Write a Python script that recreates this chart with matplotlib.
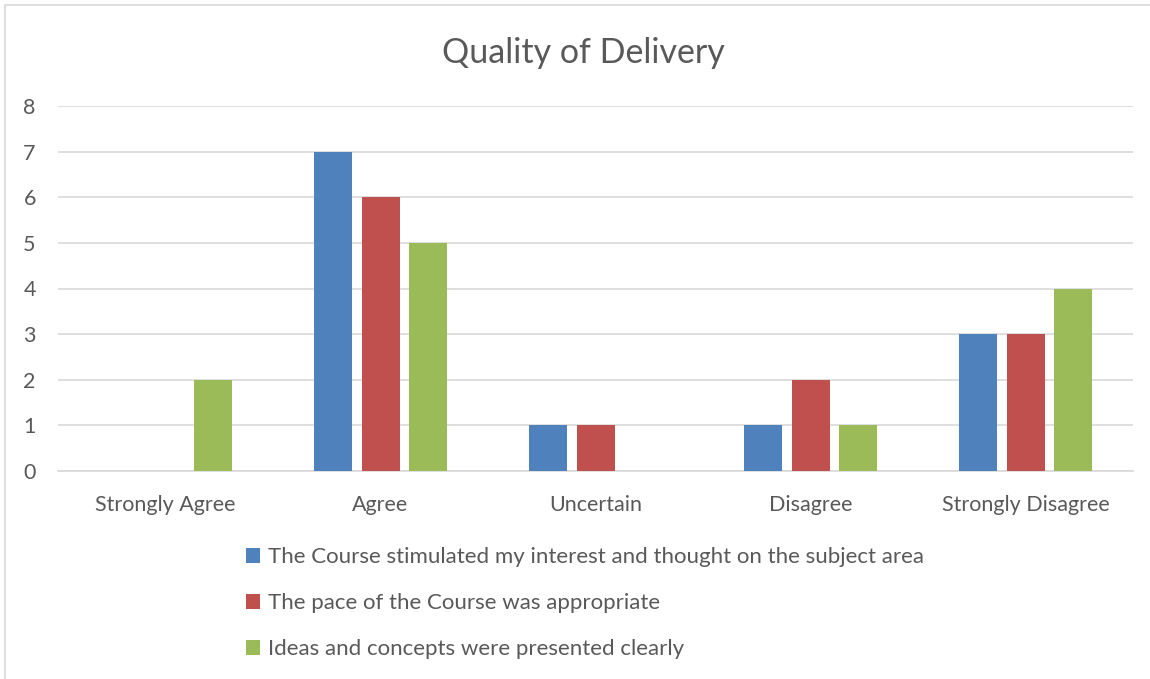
import numpy as np
import matplotlib as mpl
import matplotlib.pyplot as plt
from matplotlib.patches import Rectangle

categories = ['Strongly Agree', 'Agree', 'Uncertain', 'Disagree', 'Strongly Disagree']
series_names = [
    'The Course stimulated my interest and thought on the subject area',
    'The pace of the Course was appropriate',
    'Ideas and concepts were presented clearly',
]
stimulated = [0, 7, 1, 1, 3]
pace = [0, 6, 1, 2, 3]
clearly = [2, 5, 0, 1, 4]
colors = ['#4f81bd', '#c0504d', '#9bbb59']

W, H = 1150, 679
plt.rcParams['font.family'] = ['Lato', 'DejaVu Sans']
txt = '#595959'

fig = plt.figure(figsize=(W / 100, H / 100), dpi=100)
fig.patches.append(Rectangle((5 / W, -0.05), 1.1, 1 - 5 / H + 0.05, transform=fig.transFigure,
                             fill=False, edgecolor='#d9d9d9', linewidth=1.2))

ax = fig.add_axes([58 / W, 1 - 471 / H, (1133 - 58) / W, (471 - 106) / H])
x = np.arange(len(categories))
bw = 38 / 215
step = 47.5 / 215
for i, (vals, name) in enumerate(zip([stimulated, pace, clearly], series_names)):
    ax.bar(x + (i - 1) * step, vals, width=bw, color=colors[i], label=name, zorder=3)

ax.set_xlim(-0.5, len(categories) - 0.5)
ax.set_ylim(0, 8)
ax.set_yticks(range(0, 9))
ax.grid(axis='y', color='#d9d9d9', linewidth=1.2, zorder=0)
for s in ['top', 'right', 'left']:
    ax.spines[s].set_visible(False)
ax.spines['bottom'].set_color('#d9d9d9')
ax.spines['bottom'].set_linewidth(1.2)
ax.set_xticks(x)
ax.set_xticklabels(categories)
ax.tick_params(axis='both', length=0, colors=txt, labelsize=15.5)
ax.tick_params(axis='x', pad=17)
ax.tick_params(axis='y', pad=16)

fig.text(583 / W, 1 - 53 / H, 'Quality of Delivery', ha='center', va='center',
         fontsize=24.5, color=txt)

leg = fig.legend(loc='upper left', bbox_to_anchor=(246 / W, 1 - 547 / H), frameon=False,
                 fontsize=16, handlelength=0.65, handleheight=0.65, handletextpad=0.35,
                 labelspacing=1.17, borderpad=0, borderaxespad=0)
for t in leg.get_texts():
    t.set_color(txt)

fig.savefig('out.png', dpi=100)
